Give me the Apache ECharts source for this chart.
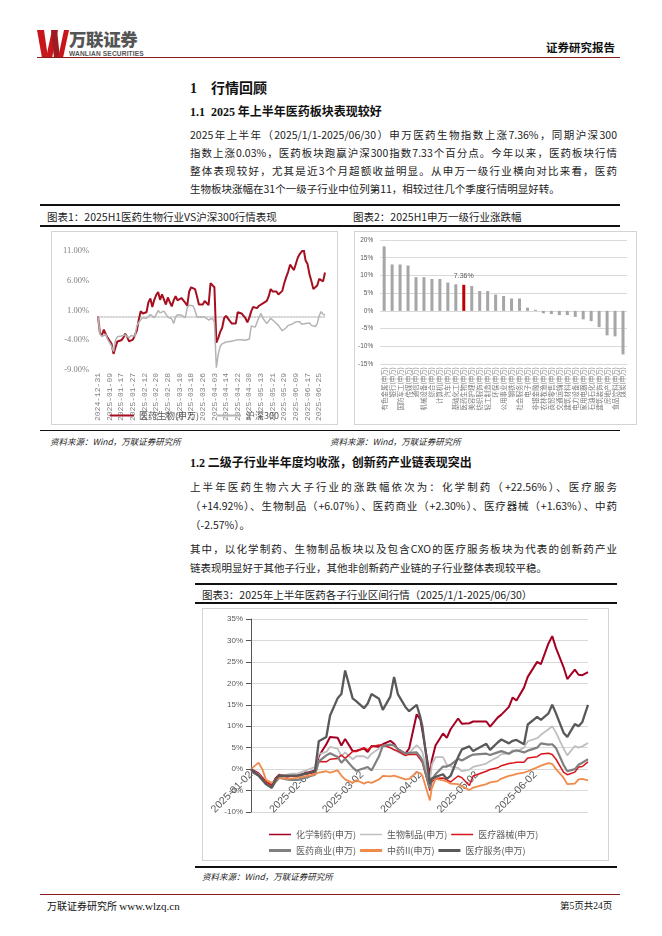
<!DOCTYPE html>
<html>
<head>
<meta charset="utf-8">
<script src="https://cdn.jsdelivr.net/npm/echarts@6/dist/echarts.min.js"></script>
<style>
html,body{margin:0;padding:0;background:#fff;}
body{width:662px;height:936px;position:relative;overflow:hidden;font-family:"Noto Sans CJK SC",sans-serif;color:#111;}
.a{position:absolute;white-space:nowrap;}
.rule{position:absolute;background:#111;}
.ln{position:absolute;left:190px;width:427px;font-size:10.5px;line-height:14px;height:14px;text-align:justify;text-align-last:justify;overflow:hidden;color:#222;}
.last{text-align-last:left;}
.box{position:absolute;border:1px solid #d4d4d4;box-sizing:border-box;}
.src{position:absolute;font-size:8.5px;font-style:italic;line-height:11px;color:#222;white-space:nowrap;}
.cap{position:absolute;font-size:10.5px;line-height:13px;white-space:nowrap;color:#222;}
</style>
</head>
<body>

<!-- 页眉 -->
<svg class="a" style="left:36px;top:29px" width="34" height="30" viewBox="0 0 34 30">
  <polygon points="1,1 8,1 12,29 6,29" fill="#c8161d"/>
  <polygon points="10,29 16,29 22,1 16,1" fill="#c8161d"/>
  <polygon points="15,1 21,1 24,29 18,29" fill="#9e1b22"/>
  <polygon points="22,29 27,29 33,1 28,1" fill="#c8161d"/>
</svg>
<div class="a" style="left:69px;top:29px;font-size:17.5px;line-height:19px;font-weight:900;color:#555;letter-spacing:-0.4px">万联证券</div>
<div class="a" style="left:69px;top:50px;font-family:'Liberation Sans';font-size:6.6px;line-height:7px;font-weight:bold;color:#555;letter-spacing:0.15px">WANLIAN SECURITIES</div>
<div class="a" style="left:37px;top:57px;width:583px;height:1px;background:#8b1c1c"></div>
<div class="a" style="left:546px;top:40px;font-size:11.5px;line-height:14px;font-weight:bold">证券研究报告</div>

<!-- 标题 -->
<div class="a" style="left:190px;top:79px;font-size:14px;line-height:16px;font-weight:bold"><span style="font-family:'Liberation Serif'">1</span><span style="margin-left:14px">行情回顾</span></div>
<div class="a" style="left:190px;top:104px;font-size:12px;line-height:14px;font-weight:bold"><span style="font-family:'Liberation Serif'">1.1&nbsp; 2025</span> 年上半年医药板块表现较好</div>

<div class="ln" style="top:128px">2025年上半年（2025/1/1-2025/06/30）申万医药生物指数上涨7.36%，同期沪深300</div>
<div class="ln" style="top:146px">指数上涨0.03%，医药板块跑赢沪深300指数7.33个百分点。今年以来，医药板块行情</div>
<div class="ln" style="top:164px">整体表现较好，尤其是近3个月超额收益明显。从申万一级行业横向对比来看，医药</div>
<div class="ln last" style="top:182px">生物板块涨幅在31个一级子行业中位列第11，相较过往几个季度行情明显好转。</div>

<div class="rule" style="left:40px;top:204px;width:580px;height:1.5px"></div>
<div class="cap" style="left:47px;top:210px">图表1：2025H1医药生物行业VS沪深300行情表现</div>
<div class="cap" style="left:353px;top:210px">图表2：2025H1申万一级行业涨跌幅</div>
<div class="rule" style="left:40px;top:225px;width:580px;height:1.5px"></div>

<div class="box" id="c1" style="left:51px;top:231px;width:287px;height:194px"></div>
<div class="box" id="c2" style="left:354px;top:231px;width:283px;height:194px"></div>

<div class="rule" style="left:40px;top:430px;width:580px;height:1px"></div>
<div class="src" style="left:50px;top:436px">资料来源：Wind，万联证券研究所</div>
<div class="src" style="left:330px;top:436px">资料来源：Wind，万联证券研究所</div>

<div class="a" style="left:190px;top:455px;font-size:12px;line-height:14px;font-weight:bold"><span style="font-family:'Liberation Serif'">1.2</span> 二级子行业半年度均收涨，创新药产业链表现突出</div>

<div class="ln" style="top:480px">上半年医药生物六大子行业的涨跌幅依次为：化学制药（+22.56%）、医疗服务</div>
<div class="ln" style="top:499px">（+14.92%）、生物制品（+6.07%）、医药商业（+2.30%）、医疗器械（+1.63%）、中药</div>
<div class="ln last" style="top:518px">（-2.57%）。</div>
<div class="ln" style="top:542px">其中，以化学制药、生物制品板块以及包含CXO的医疗服务板块为代表的创新药产业</div>
<div class="ln last" style="top:561px">链表现明显好于其他子行业，其他非创新药产业链的子行业整体表现较平稳。</div>

<div class="rule" style="left:195px;top:583px;width:422px;height:1.5px"></div>
<div class="cap" style="left:202px;top:588px">图表3：2025年上半年医药各子行业区间行情（2025/1/1-2025/06/30）</div>
<div class="rule" style="left:195px;top:602px;width:422px;height:1.5px"></div>

<div class="box" id="c3" style="left:202px;top:608px;width:407px;height:253px"></div>

<div class="rule" style="left:195px;top:866px;width:422px;height:1.5px"></div>
<div class="src" style="left:202px;top:871px">资料来源：Wind，万联证券研究所</div>

<!-- 页脚 -->
<div class="a" style="left:40px;top:894px;width:580px;height:1px;background:#8b1c1c"></div>
<div class="a" style="left:47px;top:899px;font-size:10px;line-height:13px">万联证券研究所 <span style="font-family:'Liberation Serif';font-size:11px">www.wlzq.cn</span></div>
<div class="a" style="left:560px;top:899px;font-size:9.5px;line-height:13px">第<span style="font-family:'Liberation Serif'">5</span>页共<span style="font-family:'Liberation Serif'">24</span>页</div>

<script>
// ---------- 图表1：医药生物 vs 沪深300 ----------
var dates1 = ['2024-12-31',
  '2025-01-02','2025-01-03','2025-01-06','2025-01-07','2025-01-08','2025-01-09','2025-01-10','2025-01-13','2025-01-14','2025-01-15',
  '2025-01-16','2025-01-17','2025-01-20','2025-01-21','2025-01-22','2025-01-23','2025-01-24','2025-01-27','2025-02-05','2025-02-06',
  '2025-02-07','2025-02-10','2025-02-11','2025-02-12','2025-02-13','2025-02-14','2025-02-17','2025-02-18','2025-02-19','2025-02-20',
  '2025-02-21','2025-02-24','2025-02-25','2025-02-26','2025-02-27','2025-02-28','2025-03-03','2025-03-04','2025-03-05','2025-03-06',
  '2025-03-07','2025-03-10','2025-03-11','2025-03-12','2025-03-13','2025-03-14','2025-03-17','2025-03-18','2025-03-19','2025-03-20',
  '2025-03-21','2025-03-24','2025-03-25','2025-03-26','2025-03-27','2025-03-28','2025-03-31','2025-04-01','2025-04-02','2025-04-03',
  '2025-04-07','2025-04-08','2025-04-09','2025-04-10','2025-04-11','2025-04-14','2025-04-15','2025-04-16','2025-04-17','2025-04-18',
  '2025-04-21','2025-04-22','2025-04-23','2025-04-24','2025-04-25','2025-04-28','2025-04-29','2025-04-30','2025-05-06','2025-05-07',
  '2025-05-08','2025-05-09','2025-05-12','2025-05-13','2025-05-14','2025-05-15','2025-05-16','2025-05-19','2025-05-20','2025-05-21',
  '2025-05-22','2025-05-23','2025-05-26','2025-05-27','2025-05-28','2025-05-29','2025-05-30','2025-06-03','2025-06-04','2025-06-05',
  '2025-06-06','2025-06-09','2025-06-10','2025-06-11','2025-06-12','2025-06-13','2025-06-16','2025-06-17','2025-06-18','2025-06-19',
  '2025-06-20','2025-06-23','2025-06-24','2025-06-25','2025-06-26','2025-06-27','2025-06-30'];

var bio1 = [0,-2.8,-3.2,-2.2,-3.0,-3.6,-3.9,-4.6,-6.3,-5.2,
  -4.2,-4.4,-4.0,-3.6,-2.9,-3.4,-4.2,-4.1,-3.9,-3.7,
  -2.4,-0.6,0.9,0.5,0.4,0.7,2.4,3.0,1.6,2.8,
  3.6,4.1,2.8,3.7,3.5,2.0,3.2,2.4,1.7,2.7,
  3.4,2.7,2.9,3.1,2.7,2.3,1.8,4.2,4.9,5.0,
  4.6,3.4,2.0,1.8,2.0,2.6,2.7,1.9,5.6,5.3,
  4.9,-4.4,-3.6,-2.6,-1.9,-0.3,0.1,0.1,-0.8,-1.2,
  -1.3,-1.2,0.7,0.4,0.5,0.3,-0.3,-1.0,-0.2,0.9,
  1.6,1.3,1.4,1.8,1.6,2.2,2.5,2.6,3.4,4.6,
  4.2,4.0,4.2,3.7,3.4,4.3,5.6,6.6,7.5,8.7,
  8.4,7.8,7.6,9.9,10.5,10.4,11.3,9.4,8.8,7.1,
  5.9,4.6,4.6,5.2,6.3,6.6,5.9,7.4];

var hs300 = [0,-2.9,-3.4,-3.3,-3.0,-3.9,-4.4,-5.0,-5.9,-4.0,
  -3.4,-3.6,-3.3,-3.6,-3.1,-3.3,-3.6,-3.2,-3.0,-3.3,
  -1.6,-1.0,-0.6,-0.2,0.0,-0.3,-0.1,0.3,0.4,-0.2,
  0.3,1.0,0.6,0.3,0.9,0.7,-0.1,0.0,-0.4,-1.2,
  -0.1,0.3,0.6,0.2,0.2,-0.2,1.5,1.9,2.0,1.8,
  1.0,-0.1,0.0,-0.1,-0.3,-0.1,0.1,-0.6,-0.4,-0.3,
  -1.0,-8.6,-6.3,-5.0,-4.6,-4.4,-4.3,-4.3,-4.2,-4.2,
  -4.1,-4.0,-3.9,-3.8,-3.9,-3.9,-4.0,-3.9,-3.8,-1.6,
  -1.5,-1.8,-1.7,-0.1,0.5,-0.3,-0.6,-1.2,-1.0,-0.3,
  -0.5,-0.9,-1.2,-1.5,-2.0,-2.4,-2.3,-1.9,-1.5,-1.6,
  -1.3,-1.0,-0.9,-0.8,-0.9,-1.3,-1.5,-1.2,-1.0,-1.1,
  -1.5,-1.8,-1.7,-1.2,0.1,0.8,0.4,0.2];

// ---------- 图表2：申万一级行业涨跌幅 ----------
var industries = ['有色金属','银行','国防军工','传媒','通信','机械设备','综合','计算机','汽车','基础化工',
  '医药生物','美容护理','纺织服饰','轻工制造','环保','公用事业','钢铁','社会服务','电子','非银金融',
  '农林牧渔','商贸零售','交通运输','建筑材料','电力设备','家用电器','石油石化','建筑装饰','房地产','食品饮料','煤炭'];
var changes2 = [18.2,13.1,13.1,12.8,9.5,9.5,9.0,9.0,8.0,7.5,
  7.36,7.0,5.6,5.6,4.6,4.2,3.5,3.5,0.9,0.3,
  -0.7,-0.9,-1.2,-1.2,-1.7,-2.4,-2.9,-4.6,-6.9,-7.2,-12.3];
var highlight2 = '医药生物';

// ---------- 图表3：医药各子行业区间行情 ----------
var dates3 = ['2025-01-02','2025-01-03','2025-01-06','2025-01-08','2025-01-10','2025-01-13','2025-01-15','2025-01-17','2025-01-21','2025-01-23',
  '2025-01-27','2025-02-05','2025-02-07','2025-02-11','2025-02-13','2025-02-17','2025-02-19','2025-02-21','2025-02-25','2025-02-27',
  '2025-03-03','2025-03-05','2025-03-07','2025-03-11','2025-03-13','2025-03-17','2025-03-19','2025-03-21','2025-03-25','2025-03-27',
  '2025-03-31','2025-04-02','2025-04-03','2025-04-07','2025-04-08','2025-04-10','2025-04-14','2025-04-16','2025-04-18','2025-04-22',
  '2025-04-24','2025-04-28','2025-04-30','2025-05-07','2025-05-09','2025-05-13','2025-05-15','2025-05-19','2025-05-21','2025-05-23',
  '2025-05-27','2025-05-29','2025-06-03','2025-06-05','2025-06-09','2025-06-11','2025-06-13','2025-06-17','2025-06-19','2025-06-23',
  '2025-06-25','2025-06-27','2025-06-30'];
var tickDates3 = ['2025-01-02','2025-02-02','2025-03-02','2025-04-02','2025-05-02','2025-06-02'];

var chemPharma = [0,-0.3,-1.0,-2.0,-3.0,-3.8,-2.2,-1.3,-1.8,-1.6,
  -1.5,-0.3,3.0,5.8,7.5,7.3,5.5,7.0,4.2,4.3,
  4.8,4.0,5.4,5.2,5.8,6.6,5.9,4.6,3.6,4.8,
  12.8,11.5,9.0,-1.5,2.0,5.5,8.3,7.3,9.3,11.8,
  10.6,10.7,11.1,11.1,9.9,12.0,12.7,14.5,16.7,16.0,
  19.0,21.5,25.0,24.5,29.3,31.0,28.2,23.8,21.0,23.2,
  22.0,21.9,22.6];
var bioProducts = [0,-0.5,-1.2,-2.3,-3.2,-4.0,-2.5,-1.5,-1.3,-1.1,
  -1.0,0.5,3.5,4.0,5.2,4.8,3.0,3.9,2.3,3.0,
  3.0,2.5,3.6,4.8,5.5,5.0,4.5,4.0,3.1,3.8,
  5.6,4.7,4.0,-3.0,1.0,2.8,2.8,1.0,0.6,0.3,
  -0.5,-0.1,0.5,1.3,1.9,2.8,3.5,3.6,4.4,4.1,
  5.0,6.5,7.2,8.0,9.3,10.0,8.5,4.8,3.2,5.4,
  5.0,5.3,6.1];
var devices = [0,-0.6,-1.3,-2.2,-3.0,-3.8,-2.4,-1.5,-1.5,-1.6,
  -1.5,-0.8,1.8,1.7,2.3,2.5,3.3,2.5,4.1,4.1,
  5.0,4.5,5.2,5.6,5.6,5.0,4.5,4.2,3.2,3.4,
  3.4,2.2,1.5,-5.0,-3.0,-2.2,-2.1,-2.5,-3.0,-1.6,
  -2.0,-3.8,-1.6,-0.5,-0.1,0.3,0.8,1.3,1.4,1.6,
  1.6,2.6,2.9,3.5,3.7,3.4,2.3,-0.7,-1.3,-0.7,
  0.5,0.6,1.7];
var commerce = [0,-0.8,-1.5,-2.5,-3.5,-4.4,-3.0,-2.0,-2.4,-2.5,
  -2.5,-1.3,1.8,3.2,3.7,2.8,1.5,2.4,0.4,-0.4,
  0.2,0.5,-0.3,3.0,5.4,5.7,5.5,4.7,3.6,3.8,
  3.9,2.8,2.0,-4.5,-2.5,-1.2,0.6,0.6,1.0,2.4,
  2.0,3.0,3.4,3.6,3.3,3.9,4.2,3.6,4.1,4.4,
  3.9,4.3,5.0,6.0,5.7,5.8,4.9,1.0,-0.5,0.0,
  1.0,1.5,2.3];
var tcm = [0,0.4,1.5,0.0,-2.5,-3.2,-2.5,-2.1,-2.2,-2.2,
  -2.0,-1.2,-0.8,-0.5,-0.8,-0.3,-1.5,-2.4,-3.2,-2.6,
  -3.4,-3.0,-3.2,-2.4,-1.6,-1.7,-1.5,-1.8,-2.4,-2.3,
  -0.7,-1.0,-1.5,-7.3,-4.5,-2.3,-2.6,-2.9,-3.4,-3.5,
  -4.0,-4.9,-4.3,-3.5,-3.1,-2.8,-2.2,-1.6,-1.4,-1.1,
  -0.8,-0.5,0.4,0.8,1.4,1.2,0.0,-2.0,-3.5,-3.4,
  -2.4,-2.3,-2.6];
var services = [0,-0.5,-1.5,-2.5,-3.5,-4.3,-2.5,-1.5,-1.6,-1.5,
  -1.5,-0.5,6.5,7.5,12.5,16.5,17.5,23.0,16.5,15.8,
  14.2,15.3,17.5,16.4,13.8,16.9,21.5,17.5,14.5,13.5,
  15.0,12.0,10.0,-3.5,-2.2,-1.8,-1.2,-2.3,-1.6,2.8,
  4.6,5.3,4.2,5.9,4.5,6.2,6.9,6.0,6.6,6.8,
  5.8,10.4,12.2,11.5,13.0,15.0,13.0,8.5,7.5,10.5,
  10.0,11.0,15.0];

var GRAY = '#595959';
var CJK = 'Noto Sans CJK SC';

// 图表1
var chart1 = echarts.init(document.getElementById('c1'));
chart1.setOption({
  animation: false,
  grid: {left: 46, top: 19, width: 227, height: 145},
  legend: {
    left: 'center', top: 174, icon: 'rect', itemWidth: 24, itemHeight: 2, itemGap: 18,
    textStyle: {fontSize: 9, fontFamily: CJK, color: GRAY},
    data: ['医药生物(申万)', '沪深300']
  },
  xAxis: {
    type: 'category', data: dates1, boundaryGap: false,
    axisLine: {onZero: true, lineStyle: {color: '#c8c8c8', type: 'dotted', width: 1.5}},
    axisTick: {show: false},
    axisLabel: {interval: 5, rotate: 90, margin: 3, fontSize: 8, fontFamily: 'Liberation Mono', color: '#7f7f7f'}
  },
  yAxis: {
    type: 'value', min: -9, max: 11, interval: 5,
    splitLine: {show: false}, axisLine: {show: false}, axisTick: {show: false},
    axisLabel: {margin: 9, fontSize: 8.5, fontFamily: 'Liberation Serif', color: '#7f7f7f',
      formatter: function (v) { return v.toFixed(2) + '%'; }}
  },
  series: [
    {name: '医药生物(申万)', type: 'line', data: bio1, symbol: 'none',
      lineStyle: {color: '#a50f1f', width: 2}, itemStyle: {color: '#a50f1f'}},
    {name: '沪深300', type: 'line', data: hs300, symbol: 'none',
      lineStyle: {color: '#b4b4b4', width: 1.5}, itemStyle: {color: '#b4b4b4'}}
  ]
});

// 图表2
var chart2 = echarts.init(document.getElementById('c2'));
chart2.setOption({
  animation: false,
  grid: {left: 22, top: 8, width: 250, height: 124},
  xAxis: {
    type: 'category', data: industries.map(function (n) { return n + '(申万)'; }),
    axisLine: {show: false, onZero: false}, axisTick: {show: false},
    axisLabel: {interval: 0, rotate: 90, margin: 3, fontSize: 6.5, fontFamily: CJK, color: '#7a7a7a'}
  },
  yAxis: {
    type: 'value', min: -15, max: 20, interval: 5,
    splitLine: {lineStyle: {color: '#d9d9d9'}},
    axisLabel: {margin: 7, fontSize: 6.5, fontFamily: 'Liberation Sans', color: GRAY, formatter: '{value}%'}
  },
  series: [{
    type: 'bar', barWidth: 3,
    data: changes2.map(function (v, i) {
      if (industries[i] === highlight2) {
        return {value: v, itemStyle: {color: '#c00000'},
          label: {show: true, position: 'top', distance: 5, formatter: v.toFixed(2) + '%',
            fontSize: 7, fontFamily: 'Liberation Sans', color: GRAY}};
      }
      return {value: v, itemStyle: {color: '#a6a6a6'}};
    })
  }]
});

// 图表3（按日期时间戳画在数值轴上，刻度放在每月2日）
function ts(d) { return echarts.time.parse(d).getTime(); }
function pairs(vals) { return dates3.map(function (d, i) { return [ts(d), vals[i]]; }); }
var lineCfg = [
  ['化学制药(申万)', chemPharma, '#a50021', 2],
  ['生物制品(申万)', bioProducts, '#bfbfbf', 1.8],
  ['医疗器械(申万)', devices, '#d9141b', 1.5],
  ['医药商业(申万)', commerce, '#808080', 2.2],
  ['中药II(申万)', tcm, '#f08a4b', 1.8],
  ['医疗服务(申万)', services, '#595959', 2.3]
];
function legendRow(top, names, h) {
  return {
    left: 61, top: top, icon: 'rect', itemWidth: 22, itemHeight: h, itemGap: 4,
    textStyle: {fontSize: 9, fontFamily: CJK, color: GRAY, width: 68},
    data: names
  };
}
var g3 = {left: 48, top: 10, width: 337, height: 193};
var yMin3 = -10, yMax3 = 35;
var chart3 = echarts.init(document.getElementById('c3'));
chart3.setOption({
  animation: false,
  grid: g3,
  legend: [
    legendRow(216, lineCfg.slice(0, 3).map(function (c) { return c[0]; }), 1.5),
    legendRow(232, lineCfg.slice(3).map(function (c) { return c[0]; }), 3)
  ],
  xAxis: {
    type: 'value', min: ts('2025-01-02'), max: ts('2025-06-30'),
    // 日期标签贴着 0% 线（沿用原图）
    offset: -g3.height * (0 - yMin3) / (yMax3 - yMin3),
    axisLine: {show: false, onZero: false},
    axisTick: {show: false}, splitLine: {show: false},
    axisLabel: {
      customValues: tickDates3.map(ts),
      rotate: 45, margin: 4, fontSize: 10.5, fontFamily: 'Liberation Sans', color: GRAY,
      formatter: function (v) { return echarts.time.format(v, '{yyyy}-{MM}-{dd}', false); }
    }
  },
  yAxis: {
    type: 'value', min: yMin3, max: yMax3, interval: 5,
    axisLine: {onZero: false},
    splitLine: {lineStyle: {color: '#d9d9d9'}},
    axisLabel: {margin: 8, fontSize: 8, fontFamily: 'Liberation Sans', color: GRAY, formatter: '{value}%'}
  },
  series: lineCfg.map(function (c) {
    return {name: c[0], type: 'line', data: pairs(c[1]), symbol: 'none',
      lineStyle: {color: c[2], width: c[3]}, itemStyle: {color: c[2]}};
  })
});
</script>
</body>
</html>
